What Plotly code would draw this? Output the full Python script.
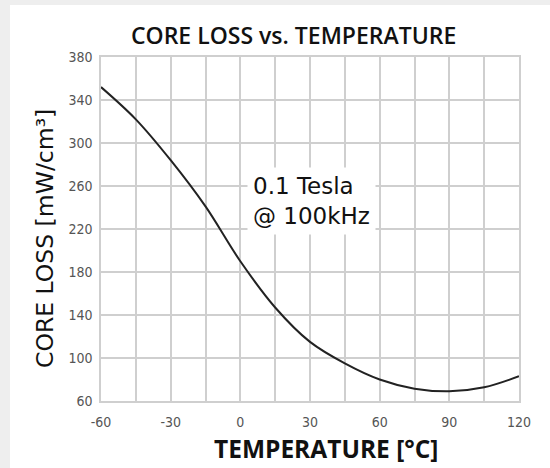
import plotly.graph_objects as go

# Data
temperature_c = [-60, -45, -30, -15, 0, 15, 30, 45, 60, 75, 90, 105, 120]
core_loss = [352, 322, 284, 241, 190, 147, 115, 95, 80, 71.5, 69, 72.7, 83]

y_ticks = [60, 100, 140, 180, 220, 260, 300, 340, 380]
x_ticks = [-60, -30, 0, 30, 60, 90, 120]
x_tick_labels = ["-60", "-30", "0", "30", "60", "90", "120"]

title_text = "CORE LOSS vs. TEMPERATURE"
x_title = "TEMPERATURE [°C]"
y_title = "CORE LOSS [mW/cm³]"
note_text = "0.1 Tesla<br>@ 100kHz"

W, H = 550, 468
L, R, T, B = 101, 31, 57, 67
PW, PH = W - L - R, H - T - B

def px_x(p):
    return (p - L) / PW

def px_y(p):
    return (H - B - p) / PH

fig = go.Figure()
fig.add_trace(go.Scatter(
    x=temperature_c, y=core_loss, mode="lines",
    line=dict(color="#222222", width=2, shape="spline", smoothing=1.0),
    showlegend=False, hoverinfo="skip",
))

grid_col = "#cfcfcf"
tick_font = dict(family="Liberation Sans Narrow, DejaVu Sans Condensed, Liberation Sans, sans-serif",
                 size=14, color="#555555")

fig.update_layout(
    width=W, height=H,
    margin=dict(l=L, r=R, t=T, b=B, autoexpand=False),
    paper_bgcolor="#eeeeee",
    plot_bgcolor="white",
    xaxis=dict(
        range=[-60, 120], tickvals=x_ticks, ticktext=x_tick_labels, ticks="", showgrid=True,
        gridcolor=grid_col, gridwidth=1.5,
        minor=dict(dtick=15, tick0=-60, showgrid=True, gridcolor=grid_col, gridwidth=1.5),
        showline=True, linecolor=grid_col, linewidth=1.5, mirror=True,
        zeroline=False, tickfont=tick_font, ticklabelstandoff=7,
    ),
    yaxis=dict(
        range=[60, 380], tickvals=y_ticks, ticks="", showgrid=True,
        gridcolor=grid_col, gridwidth=1.5,
        showline=True, linecolor=grid_col, linewidth=1.5, mirror=True,
        zeroline=False, tickfont=tick_font, ticklabelstandoff=4,
    ),
    shapes=[dict(
        type="rect", xref="paper", yref="paper", layer="below",
        x0=px_x(10), x1=px_x(W + 5), y0=px_y(H + 5), y1=px_y(5),
        fillcolor="white", line=dict(width=0),
    )],
    annotations=[
        dict(text=title_text, xref="paper", yref="paper", x=px_x(293), y=px_y(35),
             xanchor="center", yanchor="middle", showarrow=False,
             font=dict(family="Open Sans", size=23, color="#111111", weight=600)),
        dict(text=x_title, xref="paper", yref="paper", x=px_x(326), y=px_y(448),
             xanchor="center", yanchor="middle", showarrow=False,
             font=dict(family="Open Sans", size=24.5, color="#111111", weight=700)),
        dict(text=y_title, xref="paper", yref="paper", x=px_x(45), y=px_y(239),
             xanchor="center", yanchor="middle", showarrow=False, textangle=-90,
             font=dict(family="DejaVu Sans", size=23.5, color="#111111")),
        dict(text=note_text, xref="paper", yref="paper", x=px_x(247), y=px_y(201),
             xanchor="left", yanchor="middle", showarrow=False, align="left",
             bgcolor="white", borderpad=5,
             font=dict(family="DejaVu Sans", size=23, color="#111111")),
    ],
)

fig.write_html("out.html", config={"displayModeBar": False},
               post_script="document.body.style.margin='0';")
